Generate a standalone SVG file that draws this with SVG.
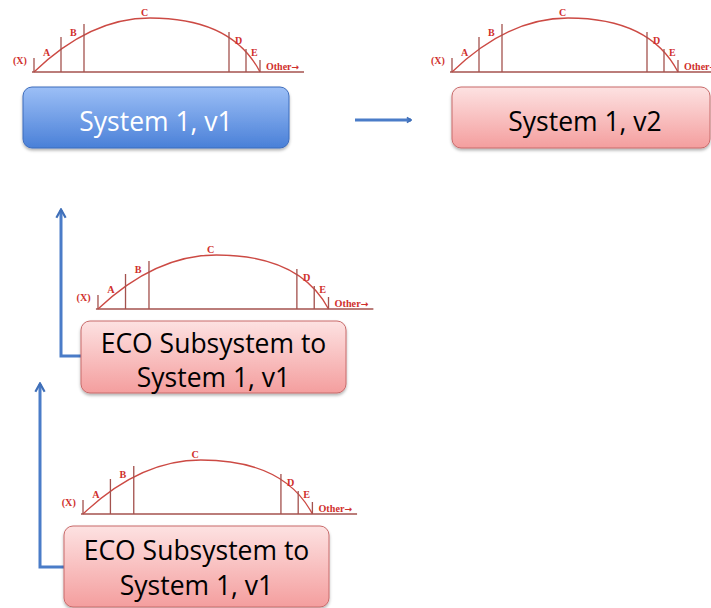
<svg xmlns="http://www.w3.org/2000/svg" xmlns:xlink="http://www.w3.org/1999/xlink" width="711" height="608" viewBox="0 0 711 608">
  <style>
    .tick { stroke: #a4524e; stroke-width: 1.3; fill: none; }
    .curve { stroke: #cc4a44; stroke-width: 1.3; fill: none; }
    .lbl { font-family: "Liberation Serif", serif; font-weight: bold; font-size: 10px; fill: #d0302c; }
    .arr { font-family: "DejaVu Sans", sans-serif; font-weight: bold; font-size: 9px; }
    .box-text { font-family: "Open Sans", "Noto Sans", sans-serif; font-size: 26.5px; text-anchor: middle; }
    .conn { stroke: #4a7cc8; stroke-width: 3; fill: none; }
  </style>
  <defs>
    <linearGradient id="blueGrad" x1="0" y1="0" x2="0" y2="1">
      <stop offset="0" stop-color="#9cbff6"/>
      <stop offset="1" stop-color="#4a80d8"/>
    </linearGradient>
    <linearGradient id="pinkGrad" x1="0" y1="0" x2="0" y2="1">
      <stop offset="0" stop-color="#fde2e2"/>
      <stop offset="1" stop-color="#f49e9e"/>
    </linearGradient>
    <filter id="shadow" x="-5%" y="-10%" width="110%" height="130%">
      <feDropShadow dx="0" dy="2" stdDeviation="1.5" flood-color="#000" flood-opacity="0.3"/>
    </filter>
    <marker id="headBig" viewBox="0 0 10 10" refX="8" refY="5" markerWidth="11" markerHeight="16" markerUnits="userSpaceOnUse" orient="auto">
      <path d="M1,0.8 L8.5,5 L1,9.2" fill="none" stroke="#3f6fb8" stroke-width="2"/>
    </marker>
    <marker id="headSmall" viewBox="0 0 10 10" refX="8" refY="5" markerWidth="6" markerHeight="8" markerUnits="userSpaceOnUse" orient="auto">
      <path d="M1,0.8 L8.5,5 L1,9.2" fill="none" stroke="#3f6fb8" stroke-width="2.5"/>
    </marker>
    <g id="chart">
      <line class="tick" x1="32" y1="72" x2="304" y2="72"/>
      <path class="curve" d="M34,72 Q90,18 150,18 Q232,18 260,72"/>
      <line class="tick" x1="34" y1="58" x2="34" y2="72"/>
      <line class="tick" x1="61" y1="37" x2="61" y2="72"/>
      <line class="tick" x1="84" y1="24" x2="84" y2="72"/>
      <line class="tick" x1="229" y1="32" x2="229" y2="72"/>
      <line class="tick" x1="246" y1="49" x2="246" y2="72"/>
      <line class="tick" x1="260" y1="60" x2="260" y2="72"/>
      <text class="lbl" x="13" y="64">(X)</text>
      <text class="lbl" x="43" y="56">A</text>
      <text class="lbl" x="70" y="36">B</text>
      <text class="lbl" x="141" y="16">C</text>
      <text class="lbl" x="235" y="44">D</text>
      <text class="lbl" x="251" y="56">E</text>
      <text class="lbl" x="266" y="70">Other<tspan class="arr">→</tspan></text>
    </g>
  </defs>

  <g id="connectors">
    <line class="conn" x1="355" y1="120" x2="411" y2="120" marker-end="url(#headSmall)"/>
    <polyline class="conn" points="81,356 61,356 61,210" marker-end="url(#headBig)"/>
    <polyline class="conn" points="64,567 40,567 40,384" marker-end="url(#headBig)"/>
  </g>

  <g id="node-system1-v1">
    <use xlink:href="#chart"/>
    <rect x="23" y="87" width="266" height="61" rx="9" fill="url(#blueGrad)" stroke="#3d6cbc" stroke-width="1" filter="url(#shadow)"/>
    <text class="box-text" x="156" y="131" fill="#ffffff">System 1, v1</text>
  </g>

  <g id="node-system1-v2">
    <use xlink:href="#chart" transform="translate(418,0)"/>
    <rect x="452" y="87" width="258" height="61" rx="9" fill="url(#pinkGrad)" stroke="#c86a6a" stroke-width="1" filter="url(#shadow)"/>
    <text class="box-text" x="585" y="131" fill="#000000">System 1, v2</text>
  </g>

  <g id="node-eco-1">
    <use xlink:href="#chart" transform="matrix(1.02 0 0 1 63.3 237)"/>
    <rect x="81" y="321" width="265" height="72" rx="9" fill="url(#pinkGrad)" stroke="#c86a6a" stroke-width="1" filter="url(#shadow)"/>
    <text class="box-text" x="213.5" y="353" fill="#000000">ECO Subsystem to</text>
    <text class="box-text" x="213.5" y="387" fill="#000000">System 1, v1</text>
  </g>

  <g id="node-eco-2">
    <use xlink:href="#chart" transform="matrix(1.015 0 0 1 48.5 442)"/>
    <rect x="64" y="526" width="265" height="81" rx="9" fill="url(#pinkGrad)" stroke="#c86a6a" stroke-width="1" filter="url(#shadow)"/>
    <text class="box-text" x="196.5" y="560" fill="#000000">ECO Subsystem to</text>
    <text class="box-text" x="196.5" y="595" fill="#000000">System 1, v1</text>
  </g>
</svg>
